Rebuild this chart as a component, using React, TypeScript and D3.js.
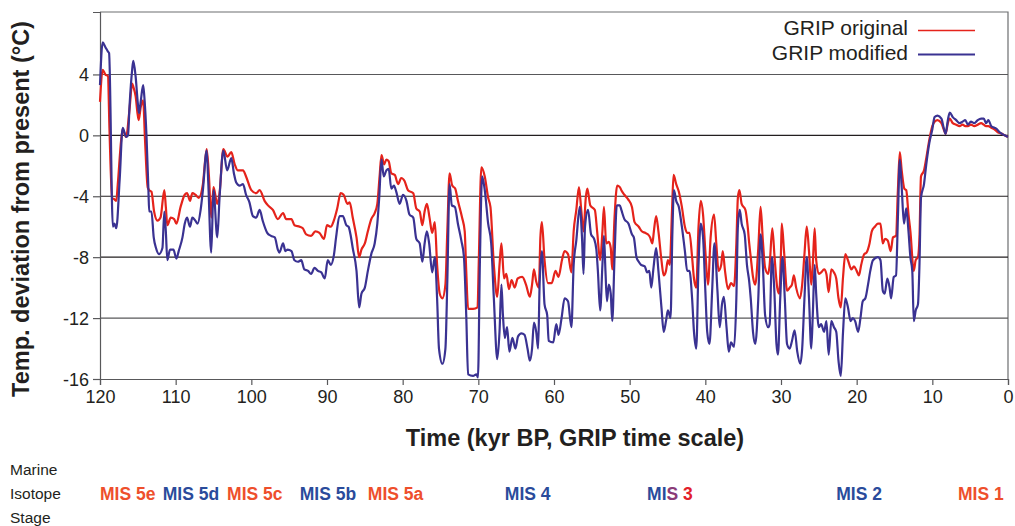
import { useEffect, useRef } from 'react';
import * as d3 from 'd3';

// GRIP temperature reconstructions [age (kyr BP), deviation (°C)]
const gripOriginal: [number, number][] = [
  [120.0, 2.2], [119.65, 4.3], [119.3, 4.0], [118.95, 3.9], [118.75, 0.4], [118.4, -4.1], [118.1, -4.2], [117.85, -4.3],
  [117.65, -3.2], [117.2, -0.3], [117.0, 0.4], [116.55, -0.1], [116.1, 1.7], [115.75, 3.4], [115.6, 3.2], [115.3, 2.6],
  [114.9, 1.0], [114.6, 1.9], [114.3, 2.3], [114.05, -0.3], [113.7, -3.4], [113.5, -3.6], [113.2, -3.7], [112.85, -5.0],
  [112.4, -5.6], [112.0, -5.4], [111.5, -3.6], [111.3, -4.7], [111.1, -5.9], [110.65, -5.4], [110.2, -5.5], [109.9, -5.8],
  [109.35, -4.7], [108.8, -3.9], [108.5, -3.8], [108.1, -4.3], [107.8, -3.8], [107.4, -3.9], [106.95, -4.1], [106.4, -3.2],
  [105.9, -0.9], [105.6, -2.7], [105.3, -5.4], [105.0, -3.4], [104.5, -4.5], [104.2, -3.8], [103.7, -0.9], [103.15, -1.4],
  [102.65, -1.1], [102.2, -1.9], [101.8, -2.3], [101.1, -2.3], [100.7, -2.7], [100.0, -3.6], [99.35, -3.8], [98.9, -3.6],
  [98.25, -4.3], [97.8, -4.6], [97.15, -4.9], [96.5, -5.5], [95.8, -5.1], [95.4, -5.5], [94.7, -5.5], [94.3, -5.9],
  [93.6, -6.0], [93.2, -6.1], [92.75, -6.5], [92.1, -6.6], [91.55, -6.3], [91.0, -6.4], [90.4, -6.8], [90.0, -5.9],
  [89.5, -6.0], [89.1, -5.6], [88.65, -4.8], [88.2, -3.8], [87.8, -3.9], [87.3, -4.5], [87.0, -4.4], [86.6, -5.4],
  [86.1, -6.7], [85.75, -8.0], [85.45, -7.5], [85.0, -7.1], [84.6, -6.3], [84.15, -5.5], [83.7, -5.1], [83.35, -4.5],
  [83.05, -2.7], [82.8, -1.3], [82.45, -1.9], [82.15, -1.6], [81.85, -1.7], [81.5, -2.5], [81.05, -2.6], [80.6, -3.2],
  [80.2, -2.8], [79.75, -3.0], [79.3, -3.6], [78.6, -3.8], [78.2, -4.8], [77.75, -5.0], [77.4, -5.9], [77.1, -5.0],
  [76.8, -4.5], [76.45, -5.4], [76.1, -6.4], [75.75, -5.7], [75.45, -8.5], [75.1, -10.4], [74.75, -10.7], [74.35, -9.8],
  [74.1, -6.3], [73.8, -2.5], [73.45, -3.3], [73.05, -3.5], [72.7, -4.3], [72.15, -5.4], [71.8, -6.3], [71.6, -8.9],
  [71.35, -11.4], [70.7, -11.4], [70.1, -11.3], [69.95, -8.5], [69.6, -2.1], [69.15, -2.7], [68.7, -4.1], [68.4, -4.7],
  [67.95, -8.5], [67.5, -10.6], [67.2, -8.5], [66.95, -7.1], [66.6, -9.4], [66.3, -9.1], [65.95, -10.1], [65.6, -9.5],
  [65.2, -10.0], [64.8, -9.4], [64.2, -9.3], [63.7, -9.8], [63.2, -10.6], [62.9, -9.8], [62.65, -8.8], [62.35, -9.6],
  [62.0, -10.0], [61.8, -6.7], [61.6, -5.7], [61.25, -8.2], [60.8, -9.7], [60.3, -9.7], [59.8, -8.9], [59.4, -9.3],
  [58.95, -8.2], [58.6, -7.6], [58.15, -7.8], [57.7, -9.0], [57.4, -6.3], [57.05, -4.9], [56.7, -3.4], [56.4, -4.9],
  [56.1, -6.3], [55.8, -4.1], [55.6, -3.5], [55.2, -4.6], [54.6, -4.9], [54.3, -6.3], [53.9, -8.2], [53.6, -6.3],
  [53.4, -4.7], [53.1, -7.1], [52.75, -7.0], [52.5, -7.4], [52.3, -8.8], [52.0, -5.4], [51.65, -3.3], [51.3, -3.4],
  [51.1, -3.6], [50.7, -3.9], [50.2, -4.2], [49.7, -4.7], [49.35, -5.7], [48.8, -6.0], [48.4, -6.3], [47.95, -6.4],
  [47.6, -6.5], [47.3, -6.7], [47.0, -7.1], [46.8, -6.3], [46.5, -5.3], [46.2, -6.3], [45.8, -8.2], [45.5, -9.2],
  [45.2, -8.9], [44.95, -8.2], [44.7, -8.5], [44.4, -4.9], [44.2, -2.6], [43.85, -3.2], [43.5, -3.7], [43.1, -4.7],
  [42.7, -6.0], [42.4, -6.4], [42.1, -6.4], [41.75, -8.0], [41.5, -9.4], [41.2, -10.0], [40.9, -6.0], [40.6, -4.3],
  [40.3, -5.2], [40.0, -7.6], [39.65, -9.8], [39.3, -6.7], [38.85, -5.2], [38.55, -7.1], [38.25, -8.9], [37.9, -8.5],
  [37.7, -7.6], [37.4, -8.9], [37.0, -10.1], [36.6, -9.7], [36.2, -9.9], [35.9, -7.1], [35.7, -4.1], [35.5, -3.6],
  [35.2, -4.5], [34.7, -4.9], [34.4, -6.0], [34.2, -7.1], [34.0, -8.0], [33.7, -9.3], [33.4, -9.8], [33.0, -7.4],
  [32.7, -4.7], [32.4, -6.9], [32.1, -8.7], [31.7, -9.1], [31.5, -8.5], [31.15, -6.1], [30.85, -8.0], [30.5, -10.0],
  [30.25, -10.4], [30.0, -7.6], [29.9, -5.8], [29.6, -7.6], [29.2, -10.2], [28.85, -10.0], [28.55, -9.8], [28.3, -9.2],
  [28.0, -10.0], [27.5, -10.7], [27.2, -9.8], [26.9, -7.8], [26.6, -6.0], [26.3, -7.6], [26.0, -9.8], [25.8, -8.5],
  [25.55, -6.1], [25.35, -8.2], [25.0, -9.1], [24.7, -9.0], [24.3, -8.8], [24.0, -9.1], [23.7, -10.3], [23.35, -8.8],
  [23.0, -9.0], [22.7, -9.4], [22.4, -10.7], [22.1, -11.3], [21.8, -9.3], [21.5, -7.8], [21.15, -8.2], [20.7, -8.8],
  [20.35, -8.6], [20.0, -8.9], [19.7, -9.2], [19.4, -8.5], [19.0, -7.8], [18.7, -7.7], [18.3, -7.1], [18.0, -6.3],
  [17.6, -6.0], [17.2, -5.8], [16.85, -5.8], [16.55, -7.1], [16.25, -6.8], [15.9, -6.9], [15.5, -7.6], [15.2, -6.7],
  [14.8, -6.6], [14.55, -3.6], [14.3, -1.1], [14.05, -2.3], [13.7, -3.5], [13.45, -3.6], [13.15, -5.2], [12.9, -6.3],
  [12.45, -8.9], [12.2, -8.2], [11.9, -8.0], [11.7, -6.7], [11.5, -2.7], [11.1, -2.3], [10.8, -1.5], [10.4, -0.3],
  [10.0, 0.6], [9.7, 0.9], [9.3, 1.0], [8.8, 0.8], [8.5, 0.4], [8.25, 0.1], [7.95, 0.8], [7.7, 1.1],
  [7.3, 0.8], [6.85, 0.7], [6.4, 0.6], [6.0, 0.7], [5.65, 0.6], [5.3, 0.6], [4.9, 0.7], [4.45, 0.6],
  [4.0, 0.7], [3.55, 0.8], [3.2, 0.7], [2.9, 0.6], [2.6, 0.6], [2.2, 0.5], [1.8, 0.4], [1.35, 0.2],
  [0.8, 0.1], [0.45, 0.0], [0.0, -0.1]
];

const gripModified: [number, number][] = [
  [120.0, 3.3], [119.65, 6.1], [119.3, 5.8], [118.95, 5.5], [118.8, 5.4], [118.3, -6.0], [118.1, -5.8], [117.85, -6.1],
  [117.4, -2.9], [117.0, 0.5], [116.55, -0.1], [116.3, 0.0], [116.1, 1.9], [115.75, 4.3], [115.6, 4.9], [115.3, 3.9],
  [115.0, 2.1], [114.85, 1.45], [114.6, 2.3], [114.3, 3.3], [114.15, 2.6], [113.85, -0.1], [113.6, -3.6], [113.5, -5.0],
  [113.2, -5.0], [112.9, -6.7], [112.6, -7.4], [112.2, -7.8], [111.75, -7.4], [111.5, -5.0], [111.3, -6.3], [111.1, -8.2],
  [110.75, -7.5], [110.3, -7.5], [109.9, -8.1], [109.6, -7.6], [109.1, -6.7], [108.8, -5.8], [108.5, -5.4], [108.1, -6.0],
  [107.8, -5.4], [107.4, -5.6], [107.1, -5.8], [106.7, -4.9], [106.4, -3.6], [105.9, -1.0], [105.7, -3.0], [105.3, -7.7],
  [105.0, -3.6], [104.5, -6.7], [104.2, -4.1], [103.7, -1.0], [103.2, -2.3], [102.65, -1.5], [102.3, -2.5], [102.0, -3.1],
  [101.55, -3.3], [101.1, -3.2], [100.7, -3.9], [100.25, -4.4], [99.8, -5.3], [99.35, -5.4], [98.9, -4.9], [98.5, -5.6],
  [97.9, -6.4], [97.4, -6.6], [96.9, -6.7], [96.5, -7.5], [96.3, -7.7], [95.8, -7.1], [95.5, -7.6], [95.2, -7.5],
  [94.7, -7.6], [94.3, -8.2], [93.85, -8.3], [93.4, -8.2], [93.0, -8.8], [92.5, -8.9], [92.1, -9.1], [91.65, -8.7],
  [91.2, -8.9], [90.75, -9.0], [90.3, -9.4], [89.9, -8.2], [89.5, -8.5], [89.1, -7.9], [88.8, -6.7], [88.35, -5.3],
  [87.9, -5.3], [87.45, -5.9], [87.15, -6.0], [86.9, -6.5], [86.6, -7.4], [86.1, -8.9], [85.75, -11.3], [85.45, -10.4],
  [85.0, -10.0], [84.6, -8.9], [84.15, -7.8], [83.7, -7.1], [83.35, -5.8], [83.1, -4.1], [82.8, -1.6], [82.5, -2.7],
  [82.15, -2.3], [81.85, -2.2], [81.5, -3.5], [81.15, -3.3], [80.85, -3.7], [80.4, -4.5], [79.95, -3.9], [79.5, -4.3],
  [79.1, -5.2], [78.6, -5.4], [78.2, -6.8], [77.75, -7.1], [77.4, -8.3], [77.1, -7.1], [76.8, -6.3], [76.5, -7.1],
  [76.1, -9.0], [75.75, -8.0], [75.45, -10.7], [75.2, -14.0], [74.75, -15.0], [74.35, -14.0], [74.1, -9.6], [73.8, -3.2],
  [73.5, -4.6], [73.1, -4.7], [72.7, -5.8], [72.25, -6.9], [71.9, -8.0], [71.6, -11.8], [71.35, -15.7], [70.7, -15.8],
  [70.25, -15.7], [70.05, -15.9], [69.8, -8.5], [69.5, -2.7], [69.15, -3.6], [68.7, -5.8], [68.3, -7.1], [67.95, -10.7],
  [67.5, -14.7], [67.2, -12.9], [66.95, -9.8], [66.75, -11.8], [66.5, -13.3], [66.2, -12.6], [65.9, -14.2], [65.5, -13.3],
  [65.1, -14.0], [64.75, -13.2], [64.3, -13.0], [63.9, -13.1], [63.5, -14.0], [63.2, -14.8], [62.9, -14.0], [62.65, -12.3],
  [62.35, -12.9], [62.1, -14.0], [61.9, -9.8], [61.6, -7.6], [61.25, -11.1], [60.9, -11.8], [60.7, -13.5], [60.1, -13.6],
  [59.7, -12.4], [59.4, -13.1], [59.0, -12.0], [58.6, -10.7], [58.15, -10.9], [57.7, -12.6], [57.4, -8.5], [57.05, -6.9],
  [56.6, -4.7], [56.3, -6.7], [56.1, -9.1], [55.9, -6.0], [55.5, -4.9], [55.1, -6.5], [54.7, -6.8], [54.4, -7.5],
  [54.2, -8.9], [53.9, -11.5], [53.6, -8.5], [53.4, -6.6], [53.2, -8.9], [53.0, -10.9], [52.75, -9.8], [52.5, -10.4],
  [52.3, -12.2], [52.0, -8.0], [51.7, -4.6], [51.3, -4.6], [51.1, -4.9], [50.7, -5.5], [50.15, -5.8], [49.7, -6.5],
  [49.45, -6.7], [49.1, -8.0], [48.8, -8.3], [48.5, -8.5], [48.0, -8.6], [47.7, -9.0], [47.4, -8.9], [47.15, -10.0],
  [46.85, -8.7], [46.5, -7.4], [46.2, -8.9], [45.8, -11.3], [45.5, -12.9], [45.2, -12.2], [44.95, -11.5], [44.6, -12.0],
  [44.35, -6.3], [44.15, -3.6], [43.85, -4.3], [43.5, -4.7], [43.1, -6.0], [42.7, -7.6], [42.4, -8.9], [42.1, -8.9],
  [41.75, -10.7], [41.5, -12.9], [41.2, -14.0], [40.9, -8.5], [40.6, -5.8], [40.3, -6.7], [40.0, -10.2], [39.75, -12.9],
  [39.45, -13.7], [39.1, -10.2], [38.8, -7.1], [38.4, -10.2], [38.1, -12.6], [37.8, -11.1], [37.55, -10.6], [37.2, -12.6],
  [36.9, -14.2], [36.6, -13.6], [36.2, -13.9], [35.9, -10.7], [35.7, -6.0], [35.45, -4.9], [35.2, -5.8], [34.8, -6.5],
  [34.5, -8.5], [34.2, -9.6], [34.0, -10.7], [33.7, -12.9], [33.4, -13.7], [33.0, -10.7], [32.7, -6.5], [32.4, -8.5],
  [32.1, -11.8], [31.7, -12.6], [31.5, -12.4], [31.2, -8.0], [30.9, -10.0], [30.6, -13.7], [30.4, -14.4], [30.1, -10.7],
  [29.8, -8.0], [29.5, -10.7], [29.2, -13.7], [28.85, -14.0], [28.55, -13.5], [28.2, -12.8], [27.85, -14.2], [27.45, -15.0],
  [27.2, -14.0], [26.9, -10.7], [26.6, -8.0], [26.3, -10.7], [26.0, -14.0], [25.8, -11.8], [25.55, -8.5], [25.35, -10.4],
  [25.0, -12.6], [24.7, -12.4], [24.3, -12.9], [24.0, -12.2], [23.7, -14.4], [23.35, -12.2], [23.0, -12.6], [22.7, -12.9],
  [22.4, -14.8], [22.1, -15.8], [21.8, -12.9], [21.5, -10.7], [21.15, -11.3], [20.8, -12.2], [20.5, -12.0], [20.2, -12.2],
  [19.8, -12.9], [19.5, -12.0], [19.2, -10.9], [18.85, -10.7], [18.5, -9.8], [18.2, -8.9], [17.85, -8.2], [17.2, -8.0],
  [16.85, -8.2], [16.55, -10.2], [16.3, -10.4], [15.95, -9.4], [15.65, -10.0], [15.45, -10.7], [15.1, -9.3], [14.8, -9.2],
  [14.55, -5.4], [14.3, -1.6], [14.05, -3.4], [13.75, -5.8], [13.45, -4.8], [13.15, -6.3], [12.9, -8.0], [12.65, -8.9],
  [12.45, -12.2], [12.2, -11.5], [11.9, -11.1], [11.7, -8.5], [11.5, -4.1], [11.1, -3.2], [10.8, -1.9], [10.4, -0.5],
  [10.0, 0.4], [9.7, 1.2], [9.3, 1.3], [8.8, 1.1], [8.5, 0.5], [8.25, 0.1], [7.95, 1.0], [7.7, 1.5],
  [7.3, 1.2], [6.85, 1.0], [6.4, 0.8], [6.0, 0.9], [5.65, 1.0], [5.3, 0.7], [4.9, 0.9], [4.45, 0.8],
  [4.0, 1.0], [3.55, 1.1], [3.2, 1.1], [2.9, 0.8], [2.6, 1.0], [2.2, 0.6], [1.8, 0.5], [1.45, 0.4],
  [1.1, 0.2], [0.8, 0.1], [0.45, 0.0], [0.0, -0.1]
];

const xTicks = [120, 110, 100, 90, 80, 70, 60, 50, 40, 30, 20, 10, 0];
const yTicks = [4, 0, -4, -8, -12, -16];
const gridValues = [4, 0, -4, -8, -12];

// marine isotope stages: label, age where the label starts (kyr BP), warm stage?
const misLabels = ['MIS 5e', 'MIS 5d', 'MIS 5c', 'MIS 5b', 'MIS 5a', 'MIS 4', 'MIS 3', 'MIS 2', 'MIS 1'];
const misAges = [120, 111.7, 103.2, 93.6, 84.6, 66.5, 47.7, 22.7, 6.6];
const misWarm = [true, false, true, false, true, false, null, false, true];

const seriesNames = ['GRIP original', 'GRIP modified'];

const App = () => {
  const chartRef = useRef<SVGSVGElement>(null);

  useEffect(() => {
    const svg = d3.select(chartRef.current);
    svg.selectAll('*').remove();

    const font = 'Liberation Sans, Arial, Helvetica, sans-serif';
    const red = '#e5231b';
    const blue = '#3a3292';
    const warmLabel = '#ee4f2c';
    const coldLabel = '#2a4b9b';
    const ink = '#231f20';

    const left = 100;
    const right = 1008;
    const top = 12;
    const bottom = 379;

    // scales
    const scaleX = d3.scaleLinear().domain([120, 0]).range([left, right]);
    const scaleY = d3.scaleLinear().domain([-16, 8.1]).range([bottom, top]);

    // frame (top + right)
    svg.append('path')
      .attr('d', `M${left},${top}H${right}V${bottom}`)
      .attr('fill', 'none')
      .attr('stroke', '#6d6e70')
      .attr('stroke-width', 1.2);

    // gridlines
    svg.append('g')
      .selectAll('line')
      .data(gridValues)
      .join('line')
      .attr('x1', left)
      .attr('x2', right)
      .attr('y1', d => scaleY(d))
      .attr('y2', d => scaleY(d))
      .attr('stroke', d => (d === 4 || d === -12 ? '#58585a' : ink))
      .attr('stroke-width', 1.1);

    // axes
    const xAxis = d3.axisBottom(scaleX)
      .tickValues(xTicks)
      .tickSize(6)
      .tickPadding(5)
      .tickFormat(d => String(d));
    const yAxis = d3.axisLeft(scaleY)
      .tickValues(yTicks)
      .tickSize(7)
      .tickPadding(4)
      .tickFormat(d => String(d));

    const xAxisGroup = svg.append('g')
      .attr('transform', `translate(0, ${bottom})`)
      .call(xAxis);
    const yAxisGroup = svg.append('g')
      .attr('transform', `translate(${left}, 0)`)
      .call(yAxis);

    [xAxisGroup, yAxisGroup].forEach(g => {
      g.select('.domain').attr('stroke', '#58585a').attr('stroke-width', 1.2);
      g.selectAll('.tick line').attr('stroke', '#58585a').attr('stroke-width', 1.2);
      g.selectAll('.tick text')
        .attr('fill', ink)
        .style('font-family', font)
        .style('font-size', '18px');
    });
    yAxisGroup.selectAll('.tick text').attr('dy', '0.36em');

    // series lines
    const line = d3.line<[number, number]>()
      .x(d => scaleX(d[0]))
      .y(d => scaleY(d[1]))
      .curve(d3.curveMonotoneX);

    svg.append('path')
      .datum(gripOriginal)
      .attr('fill', 'none')
      .attr('stroke', red)
      .attr('stroke-width', 2.2)
      .attr('stroke-linejoin', 'round')
      .attr('d', line);

    svg.append('path')
      .datum(gripModified)
      .attr('fill', 'none')
      .attr('stroke', blue)
      .attr('stroke-width', 2.2)
      .attr('stroke-linejoin', 'round')
      .attr('d', line);

    // legend
    const legend = svg.append('g');
    [red, blue].forEach((c, i) => {
      legend.append('text')
        .attr('x', 908)
        .attr('y', 35 + i * 24.5)
        .attr('text-anchor', 'end')
        .attr('fill', ink)
        .style('font-family', font)
        .style('font-size', '21px')
        .text(seriesNames[i]);
      legend.append('line')
        .attr('x1', 918)
        .attr('x2', 975)
        .attr('y1', 30.5 + i * 24)
        .attr('y2', 30.5 + i * 24)
        .attr('stroke', c)
        .attr('stroke-width', i === 0 ? 1.5 : 2);
    });

    // axis titles
    svg.append('text')
      .attr('transform', `translate(29, 209) rotate(-90)`)
      .attr('text-anchor', 'middle')
      .attr('fill', ink)
      .style('font-family', font)
      .style('font-size', '23.5px')
      .style('font-weight', 'bold')
      .text('Temp. deviation from present (°C)');

    svg.append('text')
      .attr('x', 575)
      .attr('y', 446)
      .attr('text-anchor', 'middle')
      .attr('fill', ink)
      .style('font-family', font)
      .style('font-size', '23.5px')
      .style('font-weight', 'bold')
      .text('Time (kyr BP, GRIP time scale)');

    // marine isotope stage row
    ['Marine', 'Isotope', 'Stage'].forEach((t, i) => {
      svg.append('text')
        .attr('x', 10)
        .attr('y', 475 + i * 24)
        .attr('fill', ink)
        .style('font-family', font)
        .style('font-size', '15.5px')
        .text(t);
    });

    misLabels.forEach((label, i) => {
      const txt = svg.append('text')
        .attr('x', scaleX(misAges[i]))
        .attr('y', 500)
        .style('font-family', font)
        .style('font-size', '17.5px')
        .style('font-weight', 'bold');
      if (misWarm[i] === null) {
        txt.append('tspan').attr('fill', coldLabel).text('MI');
        txt.append('tspan').attr('fill', '#8a3b78').text('S');
        txt.append('tspan').attr('fill', '#e2202a').text(' 3');
      } else {
        txt.attr('fill', misWarm[i] ? warmLabel : coldLabel).text(label);
      }
    });
  }, []);

  return (
    <svg
      ref={chartRef}
      width={1015}
      height={526}
      style={{ position: 'absolute', left: 0, top: 0, background: '#fff' }}
    />
  );
};

export default App;
